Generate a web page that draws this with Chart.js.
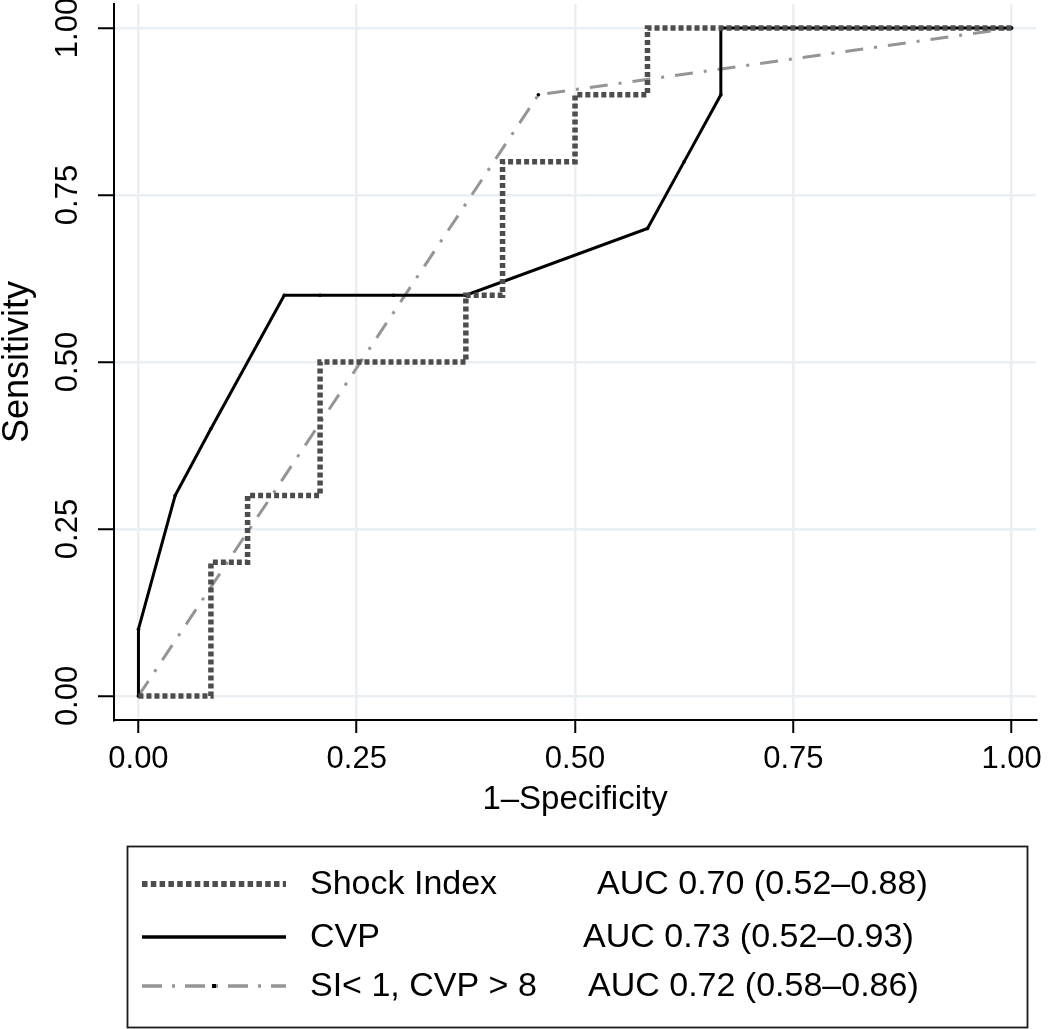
<!DOCTYPE html>
<html>
<head>
<meta charset="utf-8">
<script src="https://cdn.jsdelivr.net/npm/chart.js@4/dist/chart.umd.min.js"></script>
<style>
  html, body { margin: 0; padding: 0; background: #fff; }
  #wrap { width: 1050px; height: 1029px; position: relative; }
</style>
</head>
<body>
<div id="wrap"><canvas id="c" width="1050" height="1029"></canvas></div>
<script>
// ---- Data ----
const xTickValues = [0, 0.25, 0.5, 0.75, 1];
const xTickLabels = ["0.00", "0.25", "0.50", "0.75", "1.00"];
const yTickValues = [0, 0.25, 0.5, 0.75, 1];
const yTickLabels = ["0.00", "0.25", "0.50", "0.75", "1.00"];

const seriesNames = ["Shock Index", "CVP", "SI< 1, CVP > 8"];
const aucLabels = ["AUC 0.70 (0.52\u20130.88)", "AUC 0.73 (0.52\u20130.93)", "AUC 0.72 (0.58\u20130.86)"];

// Shock Index (step curve, horizontal then vertical)
const shockX = [0, 0.083, 0.125, 0.208, 0.375, 0.417, 0.500, 0.583, 1.000];
const shockY = [0, 0.2, 0.3, 0.5, 0.6, 0.8, 0.9, 1.0, 1.0];
// CVP
const cvpX = [0, 0, 0.042, 0.083, 0.167, 0.208, 0.292, 0.375, 0.583, 0.625, 0.667, 0.667, 1.000];
const cvpY = [0, 0.1, 0.3, 0.4, 0.6, 0.6, 0.6, 0.6, 0.7, 0.8, 0.9, 1.0, 1.0];
// SI< 1, CVP > 8
const siX = [0, 0.458, 1.000];
const siY = [0, 0.9, 1.0];

const FONT = "'Liberation Sans', Arial, Helvetica, sans-serif";
const toPts = (xs, ys) => xs.map((x, i) => ({ x: x, y: ys[i] }));

const styles = [
  { color: '#4d4d4d', width: 5.5, dash: [5, 3], legendWidth: 6, legendDash: [5.5, 3.3] },
  { color: '#000000', width: 3, dash: [], legendWidth: 3.5, legendDash: [] },
  { color: '#959595', width: 3, dash: [18, 11, 3, 11], legendWidth: 3.5, legendDash: [20, 10, 3, 10] }
];

const yLabelPlugin = {
  id: 'yLabels',
  afterDraw(chart) {
    const ctx = chart.ctx;
    const ys = chart.scales.y;
    ctx.save();
    ctx.fillStyle = '#000';
    ctx.font = '31px ' + FONT;
    ctx.textAlign = 'center';
    ctx.textBaseline = 'middle';
    yTickValues.forEach((v, i) => {
      const py = ys.getPixelForValue(v);
      ctx.save();
      ctx.translate(68, py);
      ctx.rotate(-Math.PI / 2);
      ctx.fillText(yTickLabels[i], 0, 0);
      ctx.restore();
    });
    ctx.restore();
  }
};

const legendPlugin = {
  id: 'boxLegend',
  afterDraw(chart) {
    const ctx = chart.ctx;
    ctx.save();
    // box
    ctx.strokeStyle = '#1a1a1a';
    ctx.lineWidth = 1.8;
    ctx.strokeRect(127.5, 846.5, 900, 181);
    const rowsY = [884, 937, 986];
    const aucX = [597, 583, 588];
    ctx.font = '34px ' + FONT;
    ctx.textBaseline = 'middle';
    ctx.textAlign = 'left';
    rowsY.forEach((ry, i) => {
      const s = styles[i];
      ctx.beginPath();
      ctx.strokeStyle = s.color;
      ctx.lineWidth = s.legendWidth;
      ctx.setLineDash(s.legendDash);
      ctx.moveTo(142, ry);
      ctx.lineTo(286, ry);
      ctx.stroke();
      ctx.setLineDash([]);
      if (i === 2) {
        ctx.fillStyle = '#000';
        ctx.fillRect(212, ry - 2, 4, 4);
      }
      ctx.fillStyle = '#000';
      ctx.fillText(seriesNames[i], 310, ry + 1);
      ctx.fillText(aucLabels[i], aucX[i], ry + 1);
    });
    ctx.restore();
  }
};

const chart = new Chart(document.getElementById('c'), {
  type: 'line',
  data: {
    datasets: [
      {
        label: seriesNames[0],
        data: toPts(shockX, shockY),
        borderColor: styles[0].color,
        borderWidth: styles[0].width,
        borderDash: styles[0].dash,
        borderCapStyle: 'butt',
        stepped: 'before',
        pointRadius: 0,
        fill: false
      },
      {
        label: seriesNames[1],
        data: toPts(cvpX, cvpY),
        borderColor: styles[1].color,
        borderWidth: styles[1].width,
        borderDash: styles[1].dash,
        pointRadius: 1.8,
        pointBackgroundColor: '#000',
        pointBorderWidth: 0,
        tension: 0,
        fill: false
      },
      {
        label: seriesNames[2],
        data: toPts(siX, siY),
        borderColor: styles[2].color,
        borderWidth: styles[2].width,
        borderDash: styles[2].dash,
        pointRadius: 1.8,
        pointBackgroundColor: '#000',
        pointBorderWidth: 0,
        tension: 0,
        fill: false
      }
    ]
  },
  options: {
    responsive: false,
    animation: false,
    devicePixelRatio: 1,
    layout: { padding: { left: 0, right: 9, top: 2, bottom: 209 } },
    plugins: {
      legend: { display: false },
      tooltip: { enabled: false }
    },
    scales: {
      x: {
        type: 'linear',
        min: -0.028,
        max: 1.028,
        afterBuildTicks: (s) => { s.ticks = xTickValues.map(v => ({ value: v })); },
        afterFit: (s) => { s.height = 100; },
        ticks: {
          callback: (v) => xTickLabels[xTickValues.indexOf(v)],
          font: { family: FONT, size: 31 },
          color: '#000',
          padding: 8,
          maxRotation: 0,
          autoSkip: false
        },
        grid: {
          color: '#e9eff3',
          lineWidth: 2.5,
          drawTicks: true,
          tickLength: 13,
          tickColor: '#000',
          tickWidth: 2
        },
        border: { display: true, color: '#000', width: 2 },
        title: {
          display: true,
          text: '1\u2013Specificity',
          font: { family: FONT, size: 33, lineHeight: 1 },
          color: '#000',
          padding: { top: 0, bottom: 4 }
        }
      },
      y: {
        type: 'linear',
        min: -0.036,
        max: 1.036,
        afterBuildTicks: (s) => { s.ticks = yTickValues.map(v => ({ value: v })); },
        afterFit: (s) => { s.width = 114; },
        ticks: { display: false },
        grid: {
          color: '#e9eff3',
          lineWidth: 2.5,
          drawTicks: true,
          tickLength: 16,
          tickColor: '#000',
          tickWidth: 2
        },
        border: { display: true, color: '#000', width: 2 },
        title: {
          display: true,
          text: 'Sensitivity',
          font: { family: FONT, size: 36, lineHeight: 1 },
          color: '#000',
          padding: { top: 0, bottom: 0 }
        }
      }
    }
  },
  plugins: [yLabelPlugin, legendPlugin]
});
</script>
</body>
</html>
